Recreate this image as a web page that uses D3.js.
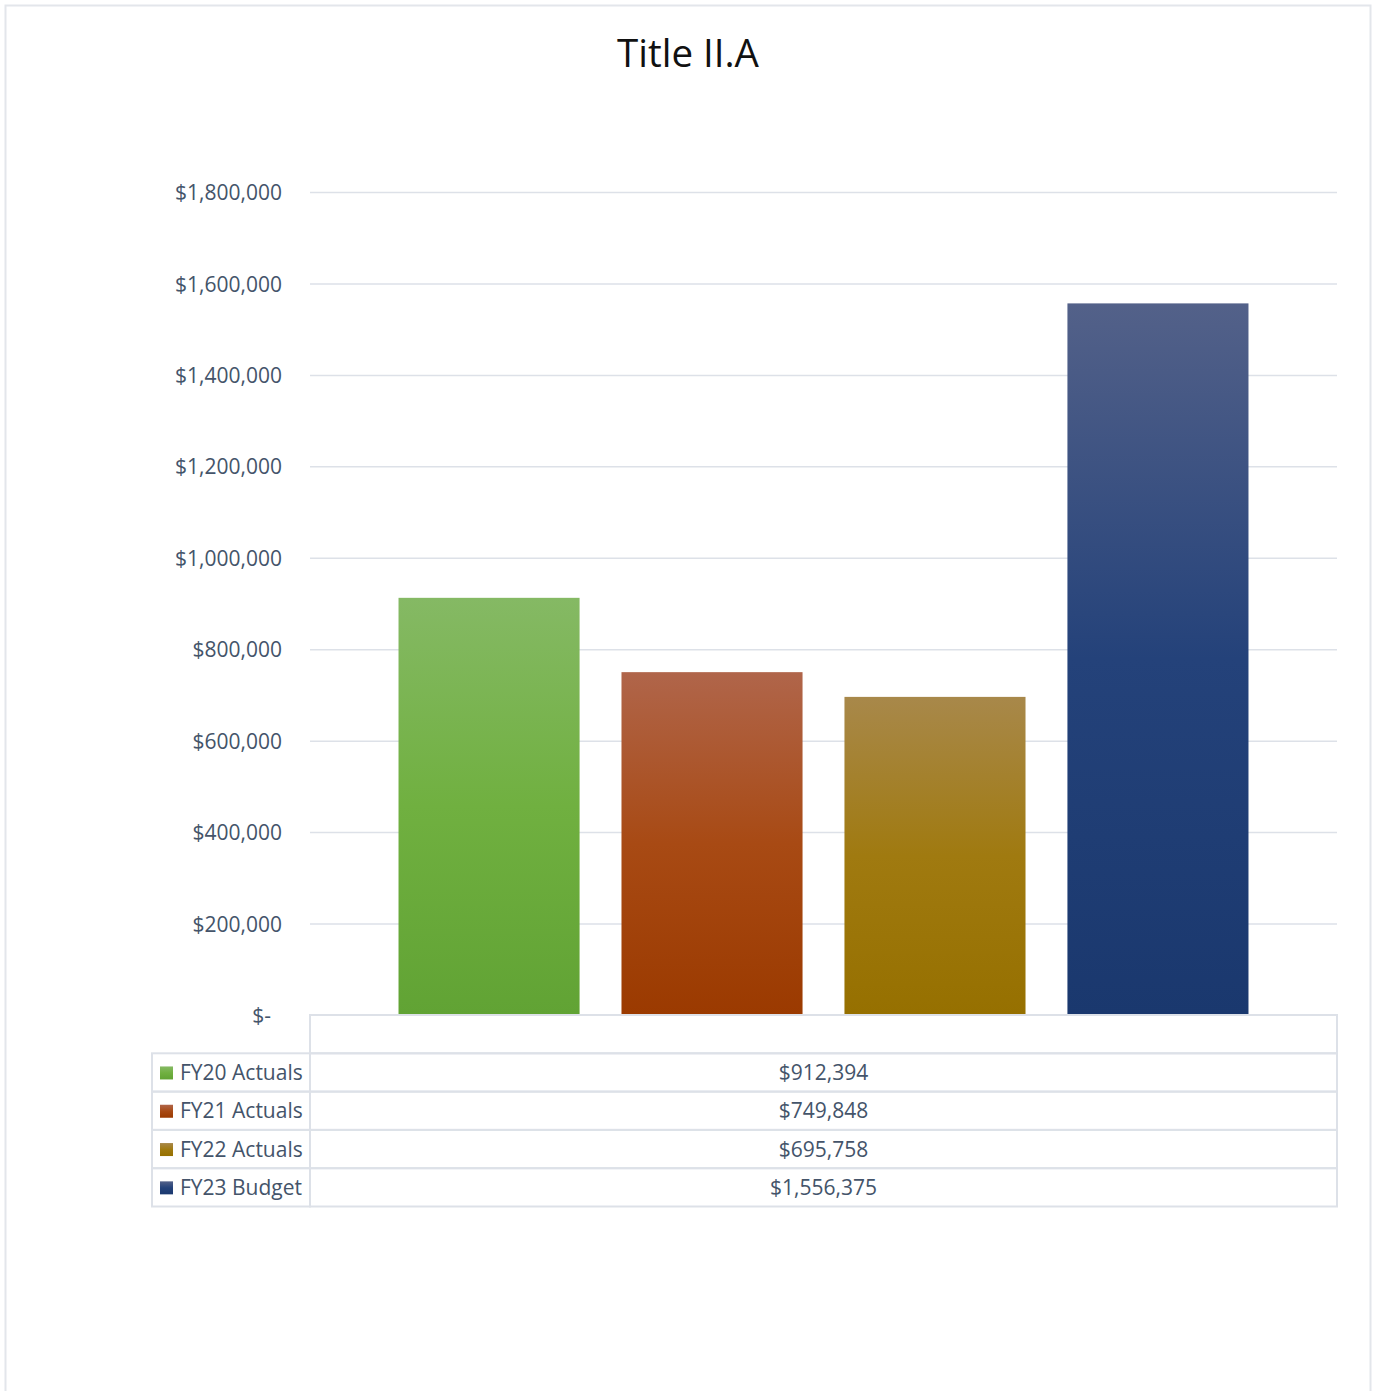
<!DOCTYPE html>
<html>
<head>
<meta charset="utf-8">
<script src="https://cdn.jsdelivr.net/npm/d3@7"></script>
<style>
  html, body { margin: 0; padding: 0; background: #fff; }
  svg { display: block; }
  text { font-family: "Open Sans", "Noto Sans", sans-serif; }
</style>
</head>
<body>
<svg id="chart" width="1374" height="1391"></svg>
<script>
// Title II.A funding by fiscal year
const title = "Title II.A";
const seriesNames = ["FY20 Actuals", "FY21 Actuals", "FY22 Actuals", "FY23 Budget"];
const seriesValues = [912394, 749848, 695758, 1556375];
const valueLabels = ["$912,394", "$749,848", "$695,758", "$1,556,375"];
const tickValues = [0, 200000, 400000, 600000, 800000, 1000000, 1200000, 1400000, 1600000, 1800000];
const tickLabels = ["$-", "$200,000", "$400,000", "$600,000", "$800,000", "$1,000,000", "$1,200,000", "$1,400,000", "$1,600,000", "$1,800,000"];
// gradient stops per series: [top, middle, bottom]
const seriesGradients = [
  ["#85b964", "#70b040", "#61a334"],
  ["#b0654a", "#a84a14", "#9b3a00"],
  ["#a8884a", "#a07a10", "#967000"],
  ["#536189", "#24427a", "#1a386e"]
];

const textColor = "#44546a";
const gridColor = "#dde1e8";
const labelSize = 21;

const svg = d3.select("#chart");

// outer chart frame
svg.append("rect")
  .attr("x", 5.5).attr("y", 5.5)
  .attr("width", 1365).attr("height", 1400)
  .attr("fill", "#fff")
  .attr("stroke", "#e3e6eb").attr("stroke-width", 2);

svg.append("text")
  .attr("x", 688).attr("y", 67)
  .attr("text-anchor", "middle")
  .attr("font-size", 38.5)
  .attr("fill", "#111")
  .text(title);

const plot = { left: 310, right: 1337, top: 192, bottom: 1015 };

const y = d3.scaleLinear().domain([0, 1800000]).range([plot.bottom, plot.top]);
const x = d3.scaleBand().domain(seriesNames)
  .range([plot.left, plot.right])
  .paddingInner(0.188).paddingOuter(0.397);

// gradients
const defs = svg.append("defs");
seriesGradients.forEach((stops, i) => {
  const g = defs.append("linearGradient")
    .attr("id", "grad" + i)
    .attr("x1", 0).attr("y1", 0).attr("x2", 0).attr("y2", 1);
  g.append("stop").attr("offset", "0%").attr("stop-color", stops[0]);
  g.append("stop").attr("offset", "50%").attr("stop-color", stops[1]);
  g.append("stop").attr("offset", "100%").attr("stop-color", stops[2]);
});

// gridlines + axis labels
const yAxis = d3.axisLeft(y)
  .tickValues(tickValues)
  .tickSize(plot.left - plot.right)
  .tickFormat((d, i) => tickLabels[i]);

const axisG = svg.append("g")
  .attr("transform", `translate(${plot.left},0)`)
  .call(yAxis);
axisG.select(".domain").remove();
axisG.selectAll(".tick line")
  .attr("stroke", gridColor).attr("stroke-width", 1.5)
  .filter(d => d === 0).remove();
axisG.selectAll(".tick text")
  .attr("x", -28)
  .attr("dy", "0.36em")
  .attr("font-size", labelSize)
  .attr("fill", textColor)
  .attr("font-family", "'Open Sans', sans-serif");
axisG.selectAll(".tick").filter(d => d === 0).select("text").attr("x", -39);

// bars
svg.append("g").selectAll("rect")
  .data(seriesValues)
  .join("rect")
  .attr("x", (d, i) => x(seriesNames[i]))
  .attr("width", x.bandwidth())
  .attr("y", d => y(d))
  .attr("height", d => y(0) - y(d))
  .attr("fill", (d, i) => `url(#grad${i})`);

// data table
const rowH = 38.3;
const tableLeft = 152;
const table = svg.append("g");
const lineAttrs = sel => sel.attr("stroke", gridColor).attr("stroke-width", 2).attr("fill", "none");

// header row (category row) box
table.append("rect")
  .attr("x", plot.left).attr("y", plot.bottom)
  .attr("width", plot.right - plot.left).attr("height", rowH)
  .call(lineAttrs);

seriesNames.forEach((name, i) => {
  const top = plot.bottom + rowH * (i + 1);
  table.append("rect")
    .attr("x", tableLeft).attr("y", top)
    .attr("width", plot.left - tableLeft).attr("height", rowH)
    .call(lineAttrs);
  table.append("rect")
    .attr("x", plot.left).attr("y", top)
    .attr("width", plot.right - plot.left).attr("height", rowH)
    .call(lineAttrs);
  table.append("rect")
    .attr("x", 160).attr("y", top + rowH / 2 - 6)
    .attr("width", 13).attr("height", 13)
    .attr("fill", `url(#grad${i})`);
  table.append("text")
    .attr("x", 180).attr("y", top + rowH / 2)
    .attr("dy", "0.36em")
    .attr("font-size", labelSize)
    .attr("fill", textColor)
    .text(name);
  table.append("text")
    .attr("x", (plot.left + plot.right) / 2).attr("y", top + rowH / 2)
    .attr("dy", "0.36em")
    .attr("text-anchor", "middle")
    .attr("font-size", labelSize)
    .attr("fill", textColor)
    .text(valueLabels[i]);
});
</script>
</body>
</html>
